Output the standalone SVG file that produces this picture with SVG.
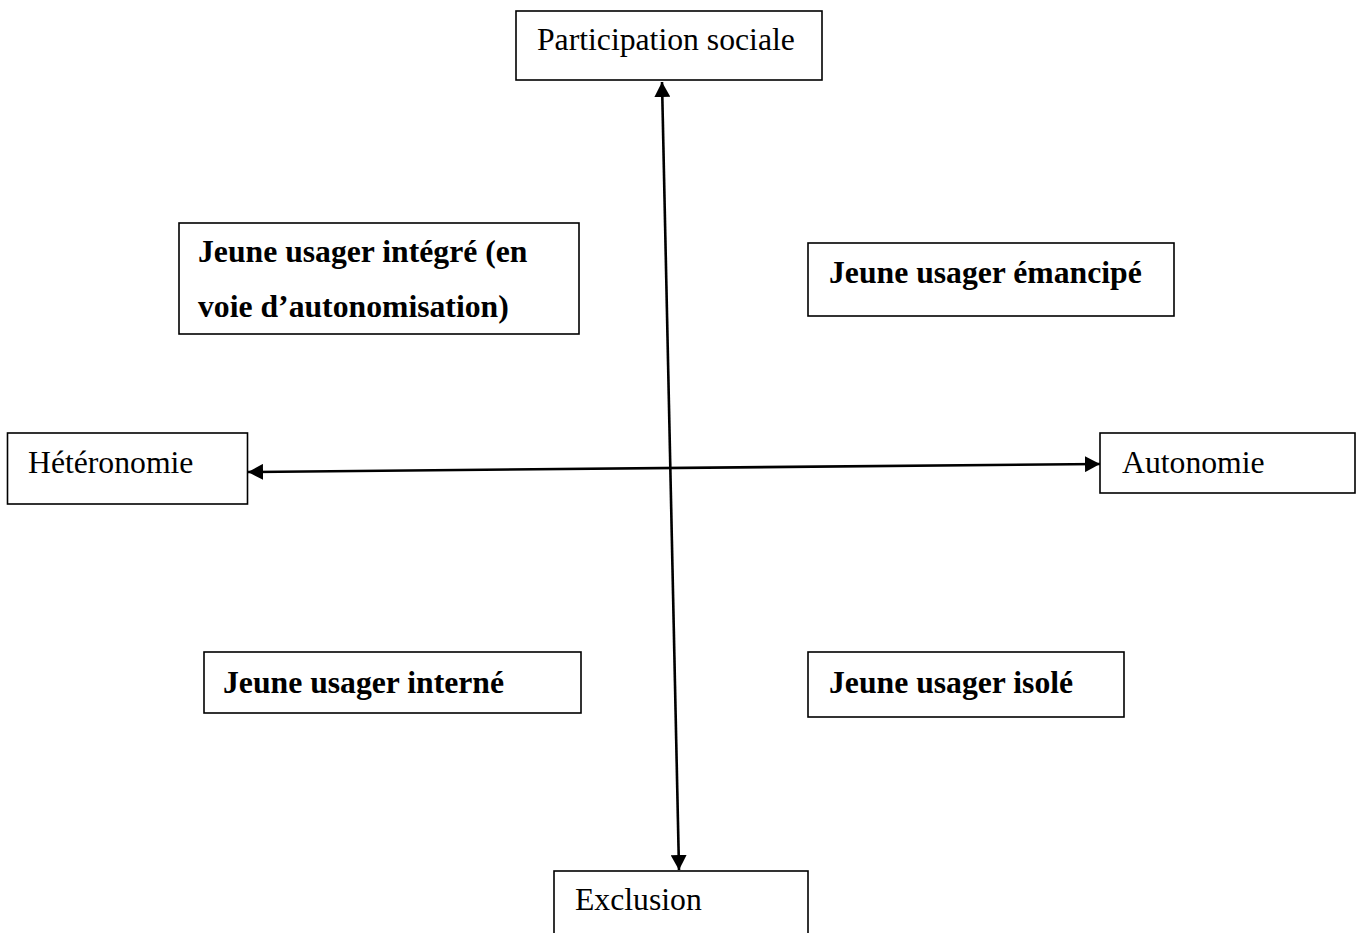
<svg xmlns="http://www.w3.org/2000/svg" width="1357" height="933" viewBox="0 0 1357 933">
  <style>
    .box { fill: #ffffff; stroke: #000000; stroke-width: 1.6; }
    .lbl { font-family: "Liberation Serif", "Times New Roman", serif; font-size: 31.7px; fill: #000000; }
    .bold { font-weight: bold; }
    .axis { stroke: #000000; stroke-width: 2.6; fill: none; }
  </style>
  <defs>
    <marker id="head" viewBox="0 0 15 16" refX="15" refY="8" markerWidth="15" markerHeight="16" markerUnits="userSpaceOnUse" orient="auto-start-reverse">
      <path d="M0,0 L15,8 L0,16 Z" fill="#000000"/>
    </marker>
  </defs>

  <!-- axes -->
  <g id="connectors">
    <line class="axis" x1="662" y1="82" x2="679" y2="870" marker-start="url(#head)" marker-end="url(#head)"/>
    <line class="axis" x1="248" y1="472" x2="1100" y2="464" marker-start="url(#head)" marker-end="url(#head)"/>
  </g>

  <!-- axis poles -->
  <g id="participation">
    <rect class="box" x="516" y="11" width="306" height="69"/>
    <text class="lbl" x="537" y="50">Participation sociale</text>
  </g>
  <g id="heteronomie">
    <rect class="box" x="7.5" y="433" width="240" height="71"/>
    <text class="lbl" x="28" y="473">Hétéronomie</text>
  </g>
  <g id="autonomie">
    <rect class="box" x="1100" y="433" width="255" height="60"/>
    <text class="lbl" x="1122" y="473">Autonomie</text>
  </g>
  <g id="exclusion">
    <rect class="box" x="554" y="871" width="254" height="80"/>
    <text class="lbl" x="575" y="910">Exclusion</text>
  </g>

  <!-- quadrant profiles -->
  <g id="integre">
    <rect class="box" x="179" y="223" width="400" height="111"/>
    <text class="lbl bold" x="198" y="262">Jeune usager intégré (en</text>
    <text class="lbl bold" x="198" y="317">voie d’autonomisation)</text>
  </g>
  <g id="emancipe">
    <rect class="box" x="808" y="243" width="366" height="73"/>
    <text class="lbl bold" x="829" y="283">Jeune usager émancipé</text>
  </g>
  <g id="interne">
    <rect class="box" x="204" y="652" width="377" height="61"/>
    <text class="lbl bold" x="223" y="693">Jeune usager interné</text>
  </g>
  <g id="isole">
    <rect class="box" x="808" y="652" width="316" height="65"/>
    <text class="lbl bold" x="829" y="693">Jeune usager isolé</text>
  </g>
</svg>
